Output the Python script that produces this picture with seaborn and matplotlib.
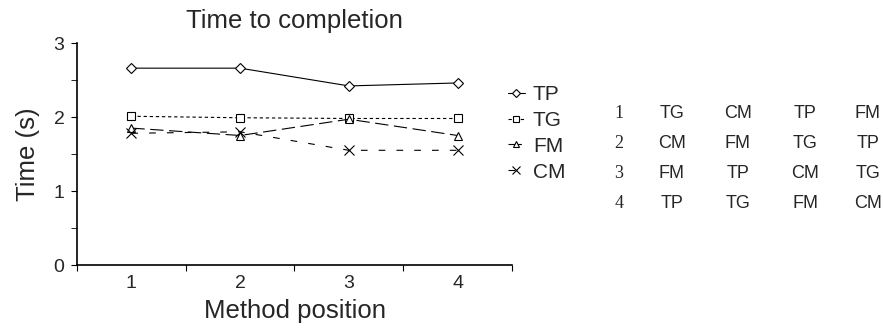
import pandas as pd
import numpy as np
import matplotlib
matplotlib.use("Agg")
import matplotlib.pyplot as plt
import seaborn as sns

# data
positions = [1, 2, 3, 4]
methods = ["TP", "TG", "FM", "CM"]
tp = [2.66, 2.66, 2.42, 2.46]
tg = [2.01, 1.99, 1.98, 1.98]
fm = [1.85, 1.75, 1.97, 1.75]
cm = [1.78, 1.80, 1.55, 1.55]

# order of methods per participant group
order_rows = ["1", "2", "3", "4"]
order_1 = ["TG", "CM", "TP", "FM"]
order_2 = ["CM", "FM", "TG", "TP"]
order_3 = ["FM", "TP", "CM", "TG"]
order_4 = ["TP", "TG", "FM", "CM"]

frame = pd.DataFrame({
    "position": positions * 4,
    "time": tp + tg + fm + cm,
    "method": np.repeat(methods, 4),
})

sns.set_style("white")
plt.rcParams['font.family'] = ['Liberation Sans', 'DejaVu Sans']

W, H = 883, 330
fig = plt.figure(figsize=(W / 100, H / 100), dpi=100)
ax = fig.add_axes([77 / W, 1 - 265 / H, 435 / W, 222 / H])

styles = {
    "TP": dict(marker="D", dashes=None, ms=5),
    "TG": dict(marker="s", dashes=(3, 2.5), ms=5.5),
    "FM": dict(marker="^", dashes=(12, 5), ms=6),
    "CM": dict(marker="x", dashes=(6, 10), ms=6.5),
}
for m in methods:
    st = styles[m]
    sub = frame[frame["method"] == m]
    sns.lineplot(data=sub, x="position", y="time", ax=ax, color="black",
                 lw=0.8, marker=st["marker"], markersize=st["ms"],
                 markerfacecolor="white", markeredgecolor="black",
                 markeredgewidth=0.8, label=m, estimator=None, legend=False)
    line = ax.get_lines()[-1]
    if st["dashes"] is not None:
        line.set_dashes(st["dashes"])

ax.set_xlim(0.5, 4.5)
ax.set_ylim(0, 3)
ax.set_xticks([0.5, 1.5, 2.5, 3.5, 4.5])
ax.set_xticklabels([])
ax.set_xticks(positions, minor=True)
ax.set_xticklabels([str(p) for p in positions], minor=True, fontsize=14)
ax.tick_params(axis="x", which="major", length=4, direction="out", bottom=True, color="black")
ax.tick_params(axis="x", which="minor", length=0, pad=7)
ax.set_yticks([0, 1, 2, 3])
ax.set_yticklabels(["0", "1", "2", "3"], fontsize=14)
ax.set_yticks([0.5, 1.5, 2.5], minor=True)
ax.tick_params(axis="y", which="both", length=4, direction="out", left=True, color="black", pad=5)
for side in ["top", "right"]:
    ax.spines[side].set_visible(False)
for side in ["left", "bottom"]:
    ax.spines[side].set_color("black")
    ax.spines[side].set_linewidth(1.2)

ax.set_xlabel("Method position", fontsize=18.5, labelpad=5)
ax.set_ylabel("Time (s)", fontsize=18.5, labelpad=10)
ax.set_title("Time to completion", fontsize=18.5, pad=11)

handles = ax.get_lines()
fig.legend(handles, methods, loc="upper left", bbox_to_anchor=(508 / W, 1 - 85 / H),
           frameon=False, fontsize=15, handlelength=0.8, handletextpad=0.4,
           labelspacing=0.33, borderpad=0, borderaxespad=0, markerscale=0.8)

# table of method orders
col_x = [672, 738, 805, 868]
row_y = [114, 143, 173, 203]
orders = [order_1, order_2, order_3, order_4]
for r, y in zip(order_rows, row_y):
    fig.text(619 / W, 1 - y / H, r, family="Liberation Serif", fontsize=13,
             ha="center", va="center")
for row, y in zip(orders, row_y):
    for name, x in zip(row, col_x):
        fig.text(x / W, 1 - y / H, name, fontsize=13, ha="center", va="center")

plt.savefig("out.png", dpi=100)
